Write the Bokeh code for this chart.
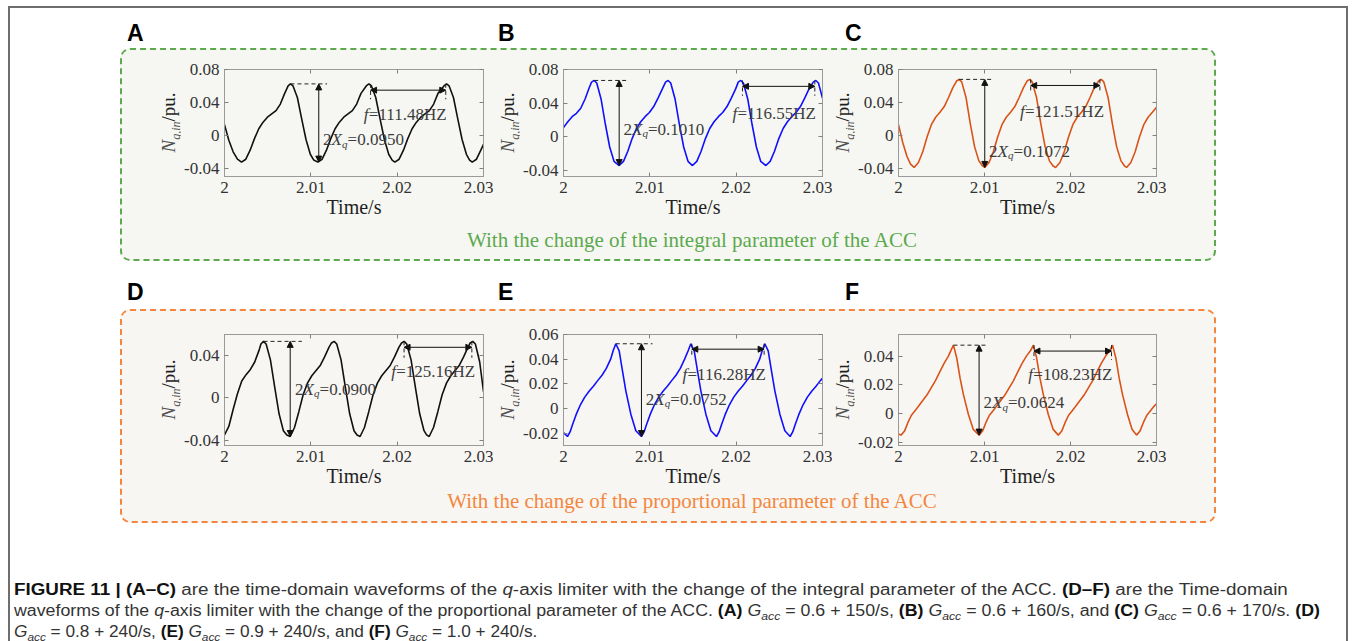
import math
from bokeh.plotting import figure
from bokeh.models import (Column, Row, Div, Range1d, FixedTicker, PrintfTickFormatter,
                          LinearAxis, Arrow, NormalHead, ColumnDataSource)
from bokeh.core.properties import value
from bokeh.embed import file_html
from bokeh.resources import INLINE

# ---------------- data ----------------
x_ticks = [2.0, 2.01, 2.02, 2.03]

t_a = [2.0, 2.0005, 2.001, 2.0015, 2.00197, 2.00247, 2.00297, 2.00347, 2.00397, 2.00447, 2.00497, 2.00547, 2.00597, 2.00647, 2.00697, 2.00737, 2.00764, 2.00794, 2.00844, 2.00894, 2.00944, 2.00994, 2.01034, 2.01081, 2.01131, 2.01181, 2.01231, 2.01281, 2.01331, 2.01381, 2.01431, 2.01481, 2.01531, 2.01581, 2.01642, 2.01672, 2.01702, 2.01752, 2.01802, 2.01852, 2.01902, 2.01942, 2.01973, 2.02023, 2.02073, 2.02123, 2.02173, 2.02223, 2.02273, 2.02323, 2.02373, 2.02423, 2.02473, 2.02542, 2.02572, 2.02602, 2.02652, 2.02702, 2.02752, 2.02802, 2.02839, 2.02869, 2.02919, 2.02969, 2.03]
n_a = [0.013, -0.006, -0.020, -0.029, -0.0325, -0.029, -0.018, -0.004, 0.008, 0.016, 0.022, 0.026, 0.030, 0.038, 0.051, 0.060, 0.0625, 0.060, 0.046, 0.020, -0.005, -0.023, -0.030, -0.0325, -0.029, -0.018, -0.004, 0.008, 0.016, 0.022, 0.026, 0.030, 0.038, 0.051, 0.060, 0.0625, 0.060, 0.046, 0.020, -0.005, -0.023, -0.030, -0.0325, -0.029, -0.018, -0.004, 0.008, 0.016, 0.022, 0.026, 0.030, 0.038, 0.051, 0.060, 0.0625, 0.060, 0.046, 0.020, -0.005, -0.023, -0.030, -0.0325, -0.029, -0.018, -0.011]

t_b = [2.0, 2.0005, 2.001, 2.0015, 2.002, 2.0025, 2.003, 2.00325, 2.00355, 2.00385, 2.00435, 2.00485, 2.00535, 2.00585, 2.00645, 2.00695, 2.00745, 2.00795, 2.00845, 2.00895, 2.00945, 2.00995, 2.01045, 2.01095, 2.01145, 2.01182, 2.01212, 2.01242, 2.01292, 2.01342, 2.01392, 2.01442, 2.01494, 2.01544, 2.01594, 2.01644, 2.01694, 2.01744, 2.01794, 2.01844, 2.01894, 2.01944, 2.01994, 2.02024, 2.02054, 2.02084, 2.02134, 2.02184, 2.02234, 2.02284, 2.02344, 2.02394, 2.02444, 2.02494, 2.02544, 2.02594, 2.02644, 2.02694, 2.02744, 2.02794, 2.02844, 2.02893, 2.02923, 2.02953, 2.03]
n_b = [0.011, 0.018, 0.024, 0.028, 0.034, 0.045, 0.059, 0.065, 0.067, 0.064, 0.045, 0.015, -0.012, -0.029, -0.034, -0.029, -0.017, -0.002, 0.010, 0.018, 0.024, 0.029, 0.036, 0.046, 0.057, 0.065, 0.067, 0.064, 0.045, 0.015, -0.012, -0.029, -0.034, -0.029, -0.017, -0.002, 0.010, 0.018, 0.024, 0.029, 0.036, 0.046, 0.057, 0.065, 0.067, 0.064, 0.045, 0.015, -0.012, -0.029, -0.034, -0.029, -0.017, -0.002, 0.010, 0.018, 0.024, 0.029, 0.036, 0.046, 0.057, 0.065, 0.067, 0.064, 0.046]

t_c = [2.0, 2.0005, 2.001, 2.0014, 2.00182, 2.00232, 2.00282, 2.00332, 2.00382, 2.00432, 2.00482, 2.00532, 2.00582, 2.00632, 2.00675, 2.00705, 2.00735, 2.00785, 2.00835, 2.00885, 2.00935, 2.00975, 2.01003, 2.01053, 2.01103, 2.01153, 2.01203, 2.01253, 2.01303, 2.01353, 2.01403, 2.01453, 2.01495, 2.01525, 2.01555, 2.01605, 2.01655, 2.01705, 2.01755, 2.01795, 2.01827, 2.01877, 2.01927, 2.01977, 2.02027, 2.02077, 2.02127, 2.02177, 2.02227, 2.02277, 2.02327, 2.02357, 2.02387, 2.02437, 2.02487, 2.02537, 2.02587, 2.02627, 2.02652, 2.02702, 2.02752, 2.02802, 2.02852, 2.02902, 2.02952, 2.03]
n_c = [0.013, -0.009, -0.026, -0.035, -0.039, -0.033, -0.020, -0.002, 0.013, 0.022, 0.028, 0.035, 0.046, 0.058, 0.066, 0.068, 0.065, 0.046, 0.014, -0.014, -0.031, -0.037, -0.039, -0.033, -0.020, -0.002, 0.013, 0.022, 0.028, 0.035, 0.046, 0.058, 0.066, 0.068, 0.065, 0.046, 0.014, -0.014, -0.031, -0.037, -0.039, -0.033, -0.020, -0.002, 0.013, 0.022, 0.028, 0.035, 0.046, 0.058, 0.066, 0.068, 0.065, 0.046, 0.014, -0.014, -0.031, -0.037, -0.039, -0.033, -0.020, -0.002, 0.013, 0.022, 0.028, 0.034]

t_d = [2.0, 2.0005, 2.001, 2.0015, 2.002, 2.0025, 2.003, 2.0035, 2.004, 2.00422, 2.00452, 2.00482, 2.00532, 2.00582, 2.00632, 2.00682, 2.00722, 2.00761, 2.00811, 2.00861, 2.00911, 2.00961, 2.01011, 2.01061, 2.01111, 2.01161, 2.01211, 2.0124, 2.0127, 2.013, 2.0135, 2.014, 2.0145, 2.015, 2.01535, 2.01571, 2.01621, 2.01671, 2.01721, 2.01771, 2.01821, 2.01871, 2.01921, 2.01971, 2.02021, 2.02051, 2.02081, 2.02111, 2.02161, 2.02211, 2.02261, 2.02311, 2.02341, 2.02371, 2.02421, 2.02471, 2.02521, 2.02571, 2.02621, 2.02671, 2.02721, 2.02771, 2.02821, 2.02846, 2.02876, 2.02906, 2.02956, 2.03]
n_d = [-0.035, -0.027, -0.011, 0.004, 0.016, 0.022, 0.027, 0.034, 0.045, 0.051, 0.0535, 0.051, 0.036, 0.010, -0.015, -0.031, -0.035, -0.0365, -0.028, -0.013, 0.003, 0.014, 0.021, 0.026, 0.031, 0.039, 0.048, 0.052, 0.0535, 0.051, 0.036, 0.010, -0.015, -0.031, -0.035, -0.0365, -0.028, -0.013, 0.003, 0.014, 0.021, 0.026, 0.031, 0.039, 0.048, 0.052, 0.0535, 0.051, 0.036, 0.010, -0.015, -0.031, -0.035, -0.0365, -0.028, -0.013, 0.003, 0.014, 0.021, 0.026, 0.031, 0.039, 0.048, 0.052, 0.0535, 0.051, 0.034, 0.006]

t_e = [2.0, 2.00046, 2.00076, 2.00106, 2.00146, 2.00196, 2.00246, 2.00296, 2.00346, 2.00396, 2.00446, 2.00496, 2.00546, 2.00576, 2.00606, 2.00645, 2.00683, 2.00722, 2.0078, 2.00838, 2.00903, 2.00933, 2.00963, 2.01003, 2.01053, 2.01103, 2.01153, 2.01203, 2.01253, 2.01303, 2.01353, 2.01403, 2.01445, 2.01475, 2.01514, 2.01552, 2.01591, 2.01649, 2.01707, 2.01772, 2.01802, 2.01832, 2.01872, 2.01922, 2.01972, 2.02022, 2.02072, 2.02122, 2.02172, 2.02222, 2.02272, 2.02302, 2.02332, 2.02371, 2.02409, 2.02448, 2.02506, 2.02564, 2.02625, 2.02655, 2.02685, 2.02725, 2.02775, 2.02825, 2.02875, 2.02925, 2.02975, 2.03]
n_e = [-0.0195, -0.0227, -0.019, -0.0127, -0.005, 0.003, 0.0092, 0.014, 0.018, 0.0226, 0.027, 0.0325, 0.040, 0.047, 0.0525, 0.0468, 0.0305, 0.0143, -0.0046, -0.018, -0.0227, -0.019, -0.0127, -0.005, 0.003, 0.0092, 0.014, 0.018, 0.0226, 0.027, 0.0325, 0.040, 0.047, 0.0525, 0.0468, 0.0305, 0.0143, -0.0046, -0.018, -0.0227, -0.019, -0.0127, -0.005, 0.003, 0.0092, 0.014, 0.018, 0.0226, 0.027, 0.0325, 0.040, 0.047, 0.0525, 0.0468, 0.0305, 0.0143, -0.0046, -0.018, -0.0227, -0.019, -0.0127, -0.005, 0.003, 0.0092, 0.014, 0.018, 0.0226, 0.0245]

t_f = [2.0, 2.0003, 2.0007, 2.0011, 2.0015, 2.0019, 2.0023, 2.0028, 2.0033, 2.0038, 2.0043, 2.0048, 2.0053, 2.0058, 2.0061, 2.00639, 2.00678, 2.00716, 2.00755, 2.00813, 2.00869, 2.00937, 2.00977, 2.01017, 2.01057, 2.01097, 2.01137, 2.01187, 2.01237, 2.01287, 2.01337, 2.01387, 2.01437, 2.01487, 2.01538, 2.01568, 2.01607, 2.01645, 2.01684, 2.01742, 2.01798, 2.01858, 2.01898, 2.01938, 2.01978, 2.02018, 2.02058, 2.02108, 2.02158, 2.02208, 2.02258, 2.02308, 2.02358, 2.02408, 2.02459, 2.02489, 2.02528, 2.02566, 2.02605, 2.02663, 2.02715, 2.02768, 2.02808, 2.02848, 2.02888, 2.02928, 2.02968, 2.03]
n_f = [-0.014, -0.0148, -0.012, -0.006, -0.001, 0.002, 0.005, 0.009, 0.013, 0.018, 0.023, 0.029, 0.035, 0.040, 0.044, 0.0476, 0.0385, 0.0247, 0.0133, -0.0005, -0.0108, -0.0148, -0.012, -0.006, -0.001, 0.002, 0.005, 0.009, 0.013, 0.018, 0.023, 0.029, 0.035, 0.040, 0.044, 0.0476, 0.0385, 0.0247, 0.0133, -0.0005, -0.0108, -0.0148, -0.012, -0.006, -0.001, 0.002, 0.005, 0.009, 0.013, 0.018, 0.023, 0.029, 0.035, 0.040, 0.044, 0.0476, 0.0385, 0.0247, 0.0133, -0.0005, -0.0108, -0.0148, -0.012, -0.006, -0.001, 0.002, 0.005, 0.007]

y_ranges = [(-0.05, 0.08), (-0.047, 0.08), (-0.05, 0.08), (-0.045, 0.06), (-0.03, 0.06), (-0.022, 0.055)]
y_ticks = [[-0.04, 0, 0.04, 0.08], [-0.04, 0, 0.04, 0.08], [-0.04, 0, 0.04, 0.08],
           [-0.04, 0, 0.04], [-0.02, 0, 0.02, 0.04, 0.06], [-0.02, 0, 0.02, 0.04]]

# annotation values (per panel A..F)
peak_level = [0.0625, 0.067, 0.068, 0.0535, 0.0525, 0.0476]
trough_level = [-0.0325, -0.034, -0.039, -0.0365, -0.0227, -0.0148]
peak_time = [2.00764, 2.00355, 2.00705, 2.00452, 2.00606, 2.00639]
dash_end = [2.01188, 2.00741, 2.01111, 2.00896, 2.01031, 2.01045]
vline_t = [2.01092, 2.00645, 2.01003, 2.00761, 2.00903, 2.00937]
harrow_y = [0.0549, 0.060, 0.0606, 0.0479, 0.0481, 0.0435]
harrow_t0 = [2.01692, 2.02073, 2.01537, 2.0208, 2.01486, 2.01575]
harrow_t1 = [2.02563, 2.02911, 2.02342, 2.02865, 2.02324, 2.02477]
tick_dash_low = [0.0438, 0.0488, 0.0513, 0.038, 0.0414, 0.0373]
amp_label = ["0.0950", "0.1010", "0.1072", "0.0900", "0.0752", "0.0624"]
amp_x = [2.01142, 2.00695, 2.01053, 2.00818, 2.00954, 2.00987]
amp_y = [-0.0053, 0.0088, -0.0194, 0.0084, 0.0076, 0.0076]
freq_label = ["111.48", "116.55", "121.51", "125.16", "116.28", "108.23"]
freq_x = [2.01614, 2.01957, 2.01413, 2.01931, 2.01378, 2.0151]
freq_y = [0.0254, 0.028, 0.0291, 0.0249, 0.0278, 0.027]

panel_letters = ["A", "B", "C", "D", "E", "F"]
group_texts = ["With the change of the integral parameter of the ACC",
               "With the change of the proportional parameter of the ACC"]

# ---------------- styling ----------------
SERIF = "Liberation Serif"
SANS = "Liberation Sans"
FRAME = "#9a9a9a"
BG1 = "#f6f7f2"
BG2 = "#f8f6f3"
GREEN = "#5ca94e"
ORANGE = "#f3873f"
C_BLACK = "#111111"
C_BLUE = "#1010ff"
C_RED = "#d95319"
LB = 44   # left border of each panel figure
RB = 10   # right border of each panel figure


def style_axis(ax, ticks, show):
    ax.ticker = FixedTicker(ticks=ticks)
    ax.formatter = PrintfTickFormatter(format="%g")
    ax.major_tick_in = 4
    ax.major_tick_out = 0
    ax.minor_tick_line_color = None
    ax.major_tick_line_color = "#808080"
    ax.axis_line_color = FRAME
    ax.major_label_text_font = SERIF
    if show:
        ax.major_label_text_font_size = "17px"
        ax.major_label_text_color = "#333333"
        ax.major_label_standoff = 5
    else:
        ax.major_label_text_font_size = "0px"
        ax.major_label_text_color = None
        ax.major_label_standoff = 0


def panel(i, t, n, color, bg, frame_w, tb, frame_h):
    height = tb + frame_h + 46
    y_lo, y_hi = y_ranges[i]
    p = figure(width=LB + frame_w + RB, height=height, x_range=Range1d(2.0, 2.03),
               y_range=Range1d(y_lo, y_hi),
               output_backend="svg", toolbar_location=None,
               min_border_left=LB, min_border_right=RB, min_border_top=tb, min_border_bottom=46,
               background_fill_color=bg, border_fill_color=bg,
               outline_line_color=FRAME, outline_line_width=1, margin=0)
    p.xgrid.visible = False
    p.ygrid.visible = False
    style_axis(p.xaxis[0], x_ticks, True)
    style_axis(p.yaxis[0], y_ticks[i], True)
    p.xaxis[0].axis_label = "Time/s"
    p.xaxis[0].axis_label_text_font = SERIF
    p.xaxis[0].axis_label_text_font_size = "20px"
    p.xaxis[0].axis_label_text_font_style = "normal"
    p.xaxis[0].axis_label_text_color = "#222222"
    p.xaxis[0].axis_label_standoff = 0
    top = LinearAxis()
    style_axis(top, x_ticks, False)
    p.add_layout(top, "above")
    right = LinearAxis()
    style_axis(right, y_ticks[i], False)
    p.add_layout(right, "right")

    # waveform
    p.line(t, n, line_color=color, line_width=1.6)

    # annotations
    p.segment(x0=[peak_time[i], harrow_t0[i], harrow_t1[i]],
              y0=[peak_level[i], peak_level[i], peak_level[i]],
              x1=[dash_end[i], harrow_t0[i], harrow_t1[i]],
              y1=[peak_level[i], tick_dash_low[i], tick_dash_low[i]],
              line_color="#222222", line_width=1, line_dash="4 3")
    head = dict(size=6, line_color="#111111", fill_color="#111111", line_width=1)
    p.add_layout(Arrow(start=NormalHead(**head), end=NormalHead(**head),
                       x_start=vline_t[i], y_start=peak_level[i],
                       x_end=vline_t[i], y_end=trough_level[i],
                       line_color="#111111", line_width=1))
    p.add_layout(Arrow(start=NormalHead(**head), end=NormalHead(**head),
                       x_start=harrow_t0[i], y_start=harrow_y[i],
                       x_end=harrow_t1[i], y_end=harrow_y[i],
                       line_color="#111111", line_width=1))
    src = ColumnDataSource(dict(
        x=[amp_x[i]] * 4 + [freq_x[i]] * 2,
        y=[amp_y[i]] * 4 + [freq_y[i]] * 2,
        text=["2", "X", "q", "=" + amp_label[i], "f", "=" + freq_label[i] + "HZ"],
        xo=[0, 8.5, 19, 24.5, 0, 5],
        yo=[0, 0, 4, 0, 0, 0],
        st=["normal", "italic", "italic", "normal", "italic", "normal"],
        sz=["17px", "17px", "11px", "17px", "17px", "17px"],
    ))
    p.text(x="x", y="y", text="text", x_offset="xo", y_offset="yo", source=src,
           text_font=value(SERIF), text_font_style="st", text_font_size="sz",
           text_color="#3d3d3d", text_align="left", text_baseline="alphabetic")
    return p


def ylabel_div(tb, frame_h, w, left):
    height = tb + frame_h + 46
    inner = (f'<div style="position:absolute;left:{left}px;top:{tb + frame_h}px;width:{frame_h}px;'
             f'transform:rotate(-90deg);transform-origin:0 0;text-align:center;white-space:nowrap;'
             f'font-family:\'{SERIF}\';font-size:19px;line-height:19px;color:#1e1e1e;">'
             f'<i style="color:#505050;">N</i><sub style="font-size:12px;line-height:0;color:#505050;">'
             f'<i>q,in</i></sub>/pu.</div>')
    return Div(text=f'<div style="position:relative;width:{w}px;height:{height}px;">{inner}</div>',
               width=w, height=height, margin=0)


fa = panel(0, t_a, n_a, C_BLACK, BG1, 259, 19, 107)
fb = panel(1, t_b, n_b, C_BLUE, BG1, 259, 19, 107)
fc = panel(2, t_c, n_c, C_RED, BG1, 258, 19, 107)
fd = panel(3, t_d, n_d, C_BLACK, BG2, 259, 23, 111)
fe = panel(4, t_e, n_e, C_BLUE, BG2, 259, 23, 111)
ff = panel(5, t_f, n_f, C_RED, BG2, 258, 23, 111)


def letters_div(letters, top, height):
    spans = ""
    for L, x in zip(letters, [117, 488, 835]):
        spans += (f'<span style="position:absolute;left:{x}px;top:{top}px;font-family:\'{SANS}\';'
                  f'font-weight:bold;font-size:23px;line-height:23px;color:#000;">{L}</span>')
    return Div(text=f'<div style="position:relative;width:1336px;height:{height}px;">{spans}</div>',
               width=1336, height=height, margin=0)


def group_div(txt, color, top, height):
    return Div(text=(f'<div style="position:relative;width:1092px;height:{height}px;">'
                     f'<div style="position:absolute;left:70px;width:1000px;top:{top}px;text-align:center;'
                     f'font-family:\'{SERIF}\';font-size:21px;line-height:21px;color:{color};white-space:nowrap;">'
                     f'{txt}</div></div>'),
               width=1092, height=height, margin=0)


def box(figs, tb, frame_h, txt_div, color, bg):
    kids = []
    for f, (w, left) in zip(figs, [(26, 5), (26, 5), (22, 1)]):
        kids += [ylabel_div(tb, frame_h, w, left), f]
    return Column(children=[Row(children=kids, margin=(0, 0, 0, 32), spacing=0), txt_div],
                  margin=(0, 0, 0, 110), spacing=0,
                  styles={"border": f"2px dashed {color}", "border-radius": "10px",
                          "background-color": bg})


box1 = box([fa, fb, fc], 19, 107, group_div(group_texts[0], GREEN, 8, 37), GREEN, BG1)
box2 = box([fd, fe, ff], 23, 111, group_div(group_texts[1], ORANGE, 0, 30), ORANGE, BG2)

G = '<i>G<sub style="font-size:11px;line-height:0;">acc</sub></i>'
cap_lines = [
    '<b style="color:#111">FIGURE 11 | (A–C)</b> are the time-domain waveforms of the <i>q</i>-axis limiter '
    'with the change of the integral parameter of the ACC. <b style="color:#111">(D–F)</b> are the Time-domain',
    'waveforms of the <i>q</i>-axis limiter with the change of the proportional parameter of the ACC. '
    f'<b style="color:#111">(A)</b> {G} = 0.6 + 150/s, <b style="color:#111">(B)</b> {G} = 0.6 + 160/s, and '
    f'<b style="color:#111">(C)</b> {G} = 0.6 + 170/s. <b style="color:#111">(D)</b>',
    f'{G} = 0.8 + 240/s, <b style="color:#111">(E)</b> {G} = 0.9 + 240/s, and '
    f'<b style="color:#111">(F)</b> {G} = 1.0 + 240/s.',
]
cap_scale = [1.176, 1.11, 1.076]
cap_top = [59, 80, 101]
cap_html = ""
for line, s, tp in zip(cap_lines, cap_scale, cap_top):
    cap_html += (f'<div style="position:absolute;left:4px;top:{tp}px;white-space:nowrap;'
                 f'transform-origin:0 0;transform:scaleX({s});font-family:\'{SANS}\';'
                 f'font-size:16px;line-height:16px;color:#333;">{line}</div>')
caption = Div(text=f'<div style="position:relative;width:1336px;height:118px;">{cap_html}</div>',
              width=1336, height=118, margin=0)

root = Column(children=[letters_div(panel_letters[:3], 14, 40), box1,
                        letters_div(panel_letters[3:], 20, 48), box2, caption],
              margin=(6, 0, 0, 8), spacing=0,
              styles={"border-top": "2px solid #6e6e6e", "border-left": "2px solid #6e6e6e",
                      "border-right": "2px solid #6e6e6e", "background-color": "#ffffff"})

with open("out.html", "w") as fh:
    fh.write(file_html(root, INLINE, "Figure 11"))
